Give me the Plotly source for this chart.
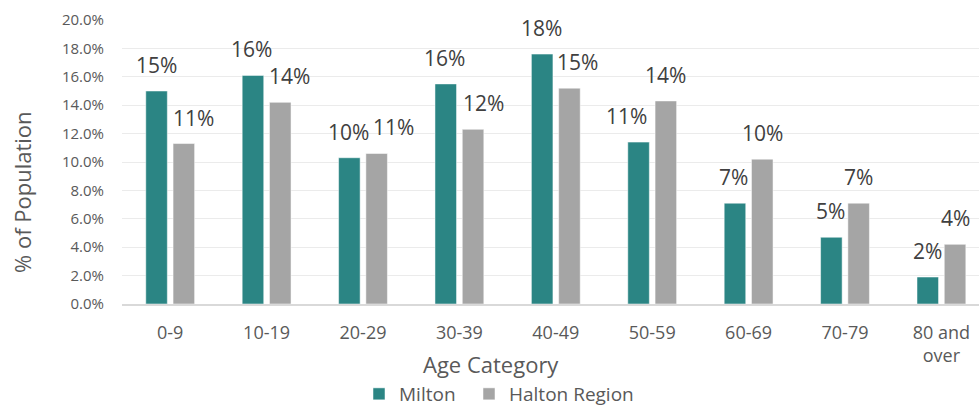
import plotly.graph_objects as go

categories = ["0-9", "10-19", "20-29", "30-39", "40-49", "50-59", "60-69", "70-79", "80 and<br>over"]
milton = [15.0, 16.1, 10.3, 15.5, 17.6, 11.4, 7.1, 4.7, 1.9]
halton = [11.3, 14.2, 10.6, 12.3, 15.2, 14.3, 10.2, 7.1, 4.2]
y_ticks = [0, 2, 4, 6, 8, 10, 12, 14, 16, 18, 20]
y_tick_text = [f"{v:.1f}%" for v in y_ticks]

TEAL = "#2B8584"
GRAY = "#A5A5A5"
TXT = "#595959"
FONT = "Open Sans"

# horizontal nudges for labels (style only)
m_shift = [0, -1, -1, -1, -1, -12, -1, -1, 0]
h_shift = [10, 9, 17, 10, 8, 0, 0, 0, 0]


def pct(v):
    return f"{int(v + 0.5)}%"


fig = go.Figure()
fig.add_trace(go.Bar(x=list(range(len(categories))), y=milton, name="Milton", legend="legend",
                     marker=dict(color=TEAL, line=dict(color="white", width=0.5))))
fig.add_trace(go.Bar(x=list(range(len(categories))), y=halton, name="Halton Region", legend="legend2",
                     marker=dict(color=GRAY, line=dict(color="white", width=0.5))))

ann = []
slot = 0.1415  # half-slot offset in category units
for i, (m, h) in enumerate(zip(milton, halton)):
    ann.append(dict(x=i - slot, y=m, xref="x", yref="y", text=pct(m),
                    showarrow=False, yanchor="middle", yshift=26, xshift=m_shift[i],
                    font=dict(family=FONT, size=21, color="#404040")))
    ann.append(dict(x=i + slot, y=h, xref="x", yref="y", text=pct(h),
                    showarrow=False, yanchor="middle", yshift=26, xshift=h_shift[i],
                    font=dict(family=FONT, size=21, color="#404040")))

PL, PW, PT, PH = 122, 857, 20, 284
ann.append(dict(x=(491 - PL) / PW, y=(PT + PH - 364) / PH, xref="paper", yref="paper",
                text="Age Category", showarrow=False, xanchor="center", yanchor="middle",
                font=dict(family=FONT, size=22, color=TXT)))
ann.append(dict(x=(22 - PL) / PW, y=(PT + PH - 192) / PH, xref="paper", yref="paper",
                text="% of Population", textangle=-90, showarrow=False,
                xanchor="center", yanchor="middle",
                font=dict(family=FONT, size=22, color=TXT)))

leg_common = dict(orientation="h", xanchor="left", y=(PT + PH - 394) / PH, yanchor="middle",
                  font=dict(family=FONT, size=19, color=TXT), itemwidth=30,
                  bgcolor="rgba(0,0,0,0)")

fig.update_layout(
    width=979, height=409,
    margin=dict(l=PL, r=0, t=PT, b=409 - PT - PH, autoexpand=False),
    paper_bgcolor="white", plot_bgcolor="white",
    barmode="group", bargap=0.434, bargroupgap=0.21,
    font=dict(family=FONT, color=TXT),
    showlegend=True,
    legend=dict(x=(359 - PL) / PW, **leg_common),
    legend2=dict(x=(469 - PL) / PW, **leg_common),
    annotations=ann,
)
fig.update_xaxes(range=[-0.5, 8.39], tickmode="array", tickvals=list(range(len(categories))),
                 ticktext=categories, showgrid=False, zeroline=False,
                 showline=True, linecolor="#D9D9D9", linewidth=2,
                 ticks="outside", ticklen=11, tickcolor="rgba(0,0,0,0)",
                 tickfont=dict(family=FONT, size=18, color=TXT), automargin=False)
fig.update_yaxes(range=[0, 20], tickmode="array", tickvals=y_ticks, ticktext=y_tick_text,
                 showgrid=True, gridcolor="#EBEBEB", gridwidth=1, zeroline=False,
                 ticks="outside", ticklen=14, tickcolor="rgba(0,0,0,0)",
                 tickfont=dict(family=FONT, size=15, color=TXT), automargin=False)

fig.write_html("out.html")
